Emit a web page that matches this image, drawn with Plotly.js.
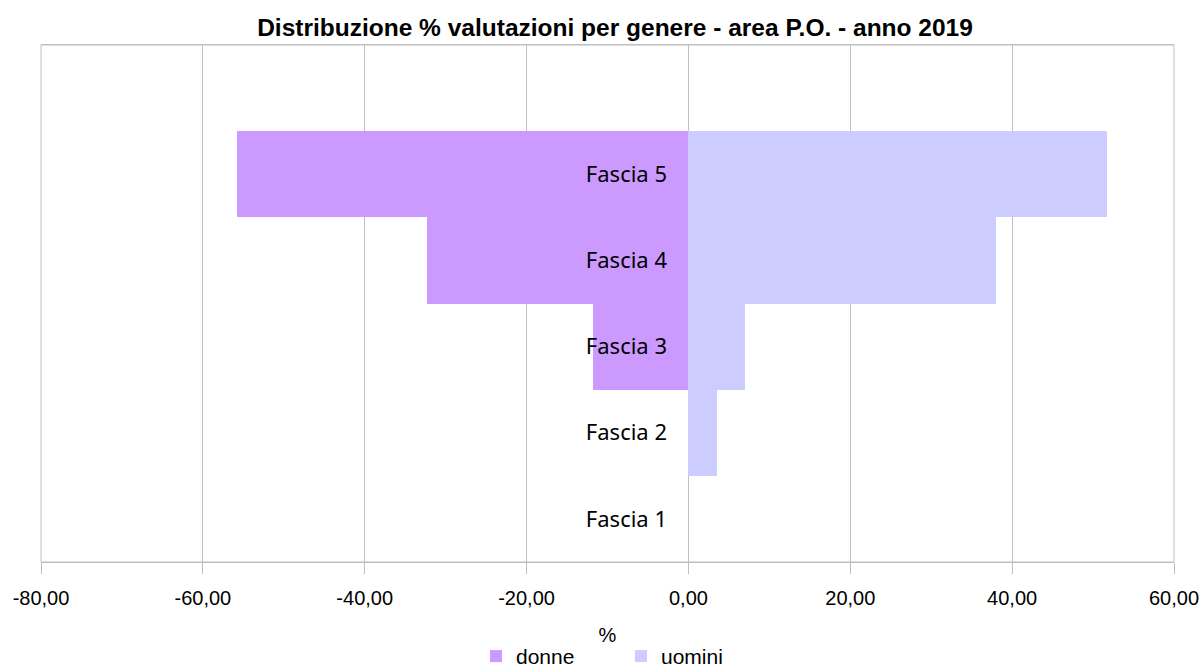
<!DOCTYPE html>
<html>
<head>
<meta charset="utf-8">
<script src="https://cdn.plot.ly/plotly-3.0.1.min.js"></script>
<style>html,body{margin:0;padding:0;background:#fff;}#chart{width:1204px;height:671px;}</style>
</head>
<body>
<div id="chart"></div>
<script>
// Data
const categories = ['Fascia 1', 'Fascia 2', 'Fascia 3', 'Fascia 4', 'Fascia 5'];
const donne = [0, 0, -11.8, -32.3, -55.8];
const uomini = [0, 3.5, 7.0, 38.0, 51.7];
const seriesNames = ['donne', 'uomini'];
const xTicks = [-80, -60, -40, -20, 0, 20, 40, 60];
const xTickText = xTicks.map(v => v.toFixed(2).replace('.', ','));
const titleText = 'Distribuzione % valutazioni per genere - area P.O. - anno 2019';
const xTitle = '%';

const xRange = [-80, 60];
const gridColor = '#BFBFBF';

const traces = [
  {
    type: 'bar', orientation: 'h', name: seriesNames[0],
    y: categories, x: donne,
    marker: {color: '#CC99FF', line: {width: 0}},
    hoverinfo: 'x+y'
  },
  {
    type: 'bar', orientation: 'h', name: seriesNames[1],
    y: categories, x: uomini,
    marker: {color: '#CCCCFF', line: {width: 0}},
    hoverinfo: 'x+y'
  }
];

const layout = {
  width: 1204, height: 671,
  margin: {l: 41, r: 30, t: 45, b: 109, autoexpand: false},
  paper_bgcolor: '#fff', plot_bgcolor: '#fff',
  barmode: 'overlay', bargap: 0,
  separators: ',.',
  font: {family: '"Liberation Sans", Arial, sans-serif', size: 20, color: '#000'},
  title: {
    text: '<b>' + titleText + '</b>',
    font: {family: '"Liberation Sans", Arial, sans-serif', size: 24.5, color: '#000'},
    x: 615 / 1204, xref: 'container', xanchor: 'center',
    y: 1 - 27 / 671, yref: 'container', yanchor: 'middle'
  },
  xaxis: {
    range: xRange, tickvals: xTicks, ticktext: xTickText,
    showgrid: true, gridcolor: gridColor, gridwidth: 1,
    zeroline: false, automargin: false,
    showline: true, linecolor: gridColor, linewidth: 1, mirror: true,
    ticks: 'outside', ticklen: 11, tickcolor: gridColor, tickwidth: 1,
    ticklabelstandoff: 7,
    tickfont: {size: 20, color: '#000'},
    title: {text: xTitle, font: {size: 20, color: '#000'}, standoff: 19},
    fixedrange: true
  },
  yaxis: {
    type: 'category', categoryorder: 'array', categoryarray: categories,
    range: [-0.5, categories.length + 0.5],
    anchor: 'free', position: (0 - xRange[0]) / (xRange[1] - xRange[0]),
    showgrid: false, zeroline: false, showline: false, automargin: false,
    ticks: 'outside', ticklen: 11, tickcolor: 'rgba(0,0,0,0)',
    tickfont: {family: '"Noto Sans", sans-serif', size: 22, color: '#000'},
    ticklabelstandoff: 6,
    layer: 'above traces',
    fixedrange: true
  },
  shapes: [
    {type: 'rect', xref: 'paper', yref: 'paper', x0: 0, x1: 1, y0: 0, y1: 1,
     line: {color: gridColor, width: 1}, fillcolor: 'rgba(0,0,0,0)', layer: 'above'}
  ],
  showlegend: true,
  legend: {
    orientation: 'h', x: (493 - 41 - 17) / 1133, xanchor: 'left',
    y: -0.143, yanchor: 'top',
    font: {size: 21, color: '#000'},
    itemwidth: 30, traceorder: 'normal',
    entrywidth: 100, entrywidthmode: 'pixels',
    bgcolor: 'rgba(0,0,0,0)'
  }
};

Plotly.newPlot('chart', traces, layout, {displayModeBar: false, staticPlot: true});
</script>
</body>
</html>
